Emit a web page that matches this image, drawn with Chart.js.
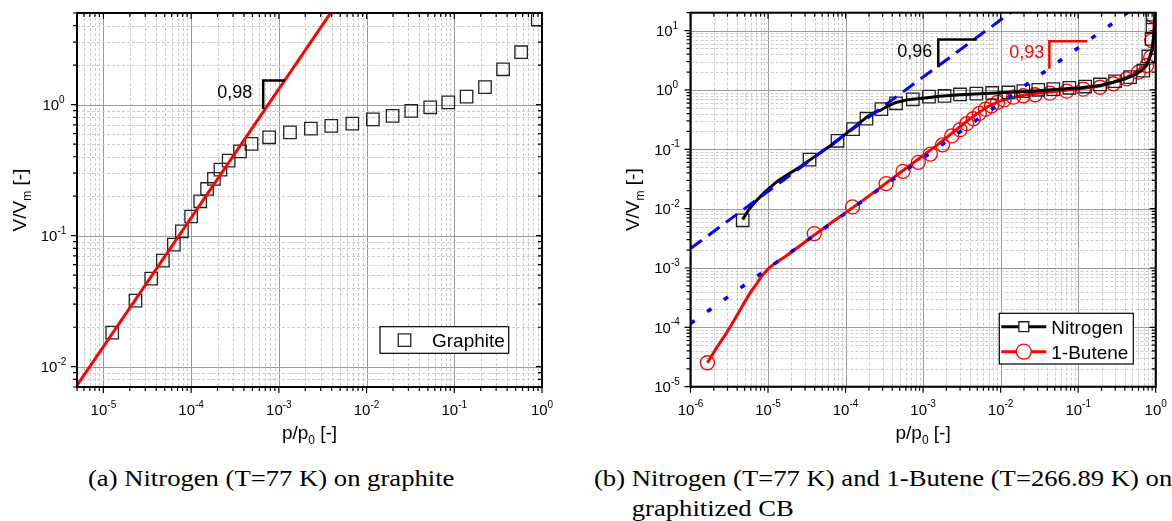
<!DOCTYPE html>
<html>
<head>
<meta charset="utf-8">
<script src="https://cdn.jsdelivr.net/npm/chart.js@4.4.1/dist/chart.umd.min.js"></script>
<style>
  html, body { margin: 0; padding: 0; background: #fff; }
  body { width: 1172px; height: 521px; position: relative; overflow: hidden; }
  canvas { position: absolute; top: 0; }
  #chartA { left: 0; }
  #chartB { left: 586px; }
  .cap {
    position: absolute;
    font-family: "Liberation Serif", "Times New Roman", serif;
    font-size: 24px;
    line-height: 30px;
    white-space: nowrap;
    color: #000;
    transform: scaleX(1.11);
    transform-origin: left top;
  }
</style>
</head>
<body>
<canvas id="chartA" width="586" height="460"></canvas>
<canvas id="chartB" width="586" height="460"></canvas>
<div class="cap" style="left:88px; top:463px">(a) Nitrogen (T=77 K) on graphite</div>
<div class="cap" style="left:594px; top:463px">(b) Nitrogen (T=77 K) and 1-Butene (T=266.89 K) on<br><span style="padding-left:34px">graphitized CB</span></div>

<script>
// ---- (a) nitrogen on graphite ----
const graphiteP = [1.26e-5, 2.32e-5, 3.51e-5, 4.76e-5, 6.36e-5, 7.85e-5, 1.0e-4, 1.27e-4, 1.52e-4, 1.82e-4,
  2.16e-4, 2.68e-4, 3.61e-4, 4.88e-4, 7.75e-4, 1.34e-3, 2.32e-3, 3.96e-3, 6.88e-3, 0.0118,
  0.0198, 0.0323, 0.0532, 0.0854, 0.138, 0.224, 0.36, 0.578, 0.895];
const graphiteV = [0.0182, 0.0319, 0.047, 0.0645, 0.0854, 0.108, 0.14, 0.183, 0.227, 0.271,
  0.319, 0.374, 0.44, 0.501, 0.563, 0.614, 0.656, 0.688, 0.716, 0.772,
  0.82, 0.895, 0.954, 1.04, 1.15, 1.36, 1.86, 2.51, 4.46];
const graphiteFitP = [5e-6, 5e-3];
const graphiteFitV = [0.0072, 6.4];
const slopeAP = [6.63e-4, 6.63e-4, 1.17e-3];
const slopeAV = [0.927, 1.525, 1.525];
const xDecadesA = [-5, -4, -3, -2, -1, 0];
const yDecadesA = [-2, -1, 0];

// ---- (b) nitrogen and 1-butene on graphitized CB ----
const n2P = [4.71e-6, 3.43e-5, 7.87e-5, 1.25e-4, 1.86e-4, 2.9e-4, 4.48e-4, 7.37e-4, 1.19e-3, 1.89e-3,
  2.99e-3, 4.86e-3, 7.78e-3, 0.0126, 0.0196, 0.0306, 0.0478, 0.0769, 0.123, 0.191,
  0.299, 0.467, 0.692, 0.803, 0.888, 0.91, 0.915];
const n2V = [6.37e-3, 0.0671, 0.139, 0.219, 0.327, 0.475, 0.596, 0.696, 0.77, 0.791,
  0.839, 0.865, 0.889, 0.906, 0.953, 1.006, 1.03, 1.086, 1.14, 1.235,
  1.4, 1.64, 2.12, 3.66, 7.25, 11.4, 16.7];
const n2CurveP = [4.71e-6, 5.68e-6, 7.15e-6, 9.14e-6, 1.29e-5, 1.81e-5, 2.58e-5, 4.03e-5, 6.95e-5, 1.14e-4,
  1.88e-4, 2.4e-4, 2.78e-4, 3.52e-4, 4.57e-4, 6.38e-4, 9.12e-4, 1.65e-3, 2.99e-3, 5.42e-3,
  0.0239, 0.106, 0.191, 0.284, 0.402, 0.514, 0.647, 0.766, 0.832, 0.889,
  0.932, 0.951, 0.9665, 0.98];
const n2CurveV = [6.55e-3, 9.75e-3, 0.0138, 0.0192, 0.0283, 0.0378, 0.0502, 0.076, 0.124, 0.208,
  0.348, 0.418, 0.451, 0.537, 0.622, 0.686, 0.718, 0.785, 0.829, 0.861,
  0.953, 1.087, 1.19, 1.35, 1.53, 1.75, 2.08, 2.58, 3.38, 4.61,
  6.79, 8.8, 13.6, 19.1];
const buteneP = [1.65e-6, 3.95e-5, 1.23e-4, 3.33e-4, 5.51e-4, 8.68e-4, 1.24e-3, 1.78e-3, 2.34e-3, 2.99e-3,
  3.65e-3, 4.44e-3, 5.31e-3, 6.38e-3, 7.63e-3, 9.11e-3, 0.0111, 0.0146, 0.0196, 0.0278,
  0.0433, 0.0712, 0.1165, 0.191, 0.284, 0.423, 0.597, 0.766, 0.863, 0.889, 0.916];
const buteneV = [2.53e-5, 3.8e-3, 0.0107, 0.0264, 0.0425, 0.0602, 0.083, 0.1186, 0.168, 0.214,
  0.27, 0.327, 0.402, 0.474, 0.541, 0.615, 0.678, 0.755, 0.797, 0.829,
  0.882, 0.953, 1.03, 1.11, 1.27, 1.54, 1.99, 2.58, 3.56, 6.79, 17.9];
const buteneCurveP = [1.65e-6, 2.2e-6, 2.93e-6, 3.75e-6, 4.8e-6, 5.85e-6, 7.15e-6, 8.36e-6, 1.008e-5, 1.23e-5,
  1.655e-5, 2.58e-5, 3.95e-5, 6.95e-5, 1.222e-4, 2.07e-4, 5.56e-4, 1.5e-3, 4.03e-3, 6.61e-3,
  9.82e-3, 0.0146, 0.0239, 0.0393, 0.1057, 0.191, 0.284, 0.402, 0.514, 0.647,
  0.766, 0.832, 0.889, 0.932, 0.951, 0.98];
const buteneCurveV = [2.53e-5, 4.66e-5, 8.17e-5, 1.4e-4, 2.46e-4, 3.77e-4, 5.48e-4, 7.43e-4, 9.73e-4, 1.205e-3,
  1.55e-3, 2.37e-3, 3.6e-3, 6.11e-3, 0.0103, 0.0169, 0.0442, 0.1164, 0.327, 0.513,
  0.652, 0.755, 0.855, 0.917, 1.045, 1.165, 1.35, 1.59, 1.87, 2.3,
  2.75, 3.52, 4.61, 6.79, 11.4, 19.1];
const n2FitP = [1e-6, 0.02];
const n2FitV = [2.13e-3, 29.5];
const buteneFitP = [1e-6, 1];
const buteneFitV = [1.16e-4, 43.6];
const slopeN2P = [1.57e-3, 1.57e-3, 4.91e-3];
const slopeN2V = [2.42, 7.06, 7.06];
const slopeButeneP = [0.0425, 0.0425, 0.131];
const slopeButeneV = [2.27, 6.6, 6.6];
const xDecadesB = [-6, -5, -4, -3, -2, -1, 0];
const yDecadesB = [-5, -4, -3, -2, -1, 0, 1];

const FONT = '"Liberation Sans", Arial, Helvetica, sans-serif';
Chart.defaults.font.family = FONT;

const pts = (xs, ys) => xs.map((x, i) => ({ x, y: ys[i] }));

// 1..9 x 10^e positions inside the axis range
function logTicks(min, max) {
  const out = [];
  for (let e = Math.floor(Math.log10(min)); e <= Math.ceil(Math.log10(max)); e++) {
    for (let m = 1; m <= 9; m++) {
      const v = m * Math.pow(10, e);
      if (v >= min * 0.9999 && v <= max * 1.0001) out.push({ v, major: m === 1 });
    }
  }
  return out;
}

// parts: [text, shift, size]; shift 1 = superscript, -1 = subscript
function richText(ctx, parts, x, y, align) {
  let w = 0;
  const sized = parts.map(([t, k, size]) => {
    ctx.font = `${size}px ${FONT}`;
    const tw = ctx.measureText(t).width;
    w += tw;
    return [t, k, size, tw];
  });
  let cx = align === "center" ? x - w / 2 : align === "right" ? x - w : x;
  ctx.textAlign = "left";
  ctx.textBaseline = "alphabetic";
  for (const [t, k, size, tw] of sized) {
    ctx.font = `${size}px ${FONT}`;
    ctx.fillText(t, cx, y + (k === 1 ? -7.5 : k === -1 ? 5 : 0));
    cx += tw;
  }
}

const figurePlugin = {
  id: "figure",
  beforeDatasetsDraw(chart) {
    const { ctx, chartArea: a, scales: { x, y } } = chart;
    ctx.save();
    ctx.lineWidth = 1;
    for (const t of logTicks(x.min, x.max)) {
      const px = Math.round(x.getPixelForValue(t.v)) + 0.5;
      ctx.strokeStyle = t.major ? "#9a9a9a" : "#cccccc";
      ctx.setLineDash(t.major ? [] : [3, 2]);
      ctx.beginPath();
      ctx.moveTo(px, a.top);
      ctx.lineTo(px, a.bottom);
      ctx.stroke();
    }
    for (const t of logTicks(y.min, y.max)) {
      const py = Math.round(y.getPixelForValue(t.v)) + 0.5;
      ctx.strokeStyle = t.major ? "#9a9a9a" : "#cccccc";
      ctx.setLineDash(t.major ? [] : [3, 2]);
      ctx.beginPath();
      ctx.moveTo(a.left, py);
      ctx.lineTo(a.right, py);
      ctx.stroke();
    }
    ctx.restore();
  },
  afterDatasetsDraw(chart, args, o) {
    const { ctx, chartArea: a, scales: { x, y } } = chart;
    ctx.save();
    ctx.setLineDash([]);
    ctx.strokeStyle = "#000";
    ctx.fillStyle = "#000";

    // tick marks: out on bottom/left, in on top/right
    ctx.lineWidth = 1.2;
    for (const t of logTicks(x.min, x.max)) {
      const px = x.getPixelForValue(t.v), len = t.major ? 6 : 4;
      ctx.beginPath();
      ctx.moveTo(px, a.bottom); ctx.lineTo(px, a.bottom + len);
      ctx.moveTo(px, a.top); ctx.lineTo(px, a.top + len);
      ctx.stroke();
    }
    for (const t of logTicks(y.min, y.max)) {
      const py = y.getPixelForValue(t.v), len = t.major ? 6 : 4;
      ctx.beginPath();
      ctx.moveTo(a.left - len, py); ctx.lineTo(a.left, py);
      ctx.moveTo(a.right - len, py); ctx.lineTo(a.right, py);
      ctx.stroke();
    }
    ctx.lineWidth = 2;
    ctx.strokeRect(a.left, a.top, a.right - a.left, a.bottom - a.top);

    // tick labels
    o.xDecades.forEach((e) =>
      richText(ctx, [["10", 0, 15], [String(e), 1, 10]], x.getPixelForValue(Math.pow(10, e)), a.bottom + 28, "center"));
    o.yDecades.forEach((e) =>
      richText(ctx, [["10", 0, 15], [String(e), 1, 10]], a.left - 23.5, y.getPixelForValue(Math.pow(10, e)) + 5.5, "center"));

    // axis titles
    richText(ctx, o.xTitle, (a.left + a.right) / 2, a.bottom + 52, "center");
    ctx.save();
    ctx.translate(a.left - 51.5, (a.top + a.bottom) / 2);
    ctx.rotate(-Math.PI / 2);
    richText(ctx, o.yTitle, 0, 0, "center");
    ctx.restore();

    // slope labels next to the triangle corners
    o.slopes.forEach((s) => {
      const corner = chart.data.datasets[s.ds].data[1];
      const px = x.getPixelForValue(corner.x), py = y.getPixelForValue(corner.y);
      ctx.fillStyle = s.color;
      richText(ctx, [[s.text, 0, 18]], px - s.gap, py + 17, "right");
    });

    // legend box
    const L = o.legend;
    const lx = a.right - L.right - L.w, ly = a.bottom - L.bottom - L.h;
    ctx.fillStyle = "#fff";
    ctx.fillRect(lx, ly, L.w, L.h);
    ctx.lineWidth = 1.2;
    ctx.strokeStyle = "#000";
    ctx.strokeRect(lx, ly, L.w, L.h);
    L.rows.forEach((r, i) => {
      const ds = chart.data.datasets[r.ds];
      const cy = ly + 13.4 + i * 25;
      const mx = lx + 24.5;
      if (r.line) {
        ctx.strokeStyle = r.line;
        ctx.lineWidth = 3;
        ctx.beginPath();
        ctx.moveTo(lx + 2, cy); ctx.lineTo(lx + 47, cy);
        ctx.stroke();
      }
      ctx.strokeStyle = ds.pointBorderColor;
      ctx.fillStyle = "#fff";
      ctx.lineWidth = 1.3;
      Chart.helpers.drawPoint(ctx, { pointStyle: ds.pointStyle, radius: r.radius, rotation: 0, borderWidth: 1.3 }, mx, cy);
      ctx.fillStyle = "#000";
      richText(ctx, [[ds.label, 0, 19]], lx + 52, cy + 7, "left");
    });
    ctx.restore();
  },
};

const lineDs = (label, xs, ys, color, width, extra) => ({
  label, data: pts(xs, ys), showLine: true, borderColor: color, borderWidth: width,
  pointRadius: 0, clip: 0, tension: 0, borderJoinStyle: "round", ...extra,
});
const markDs = (label, xs, ys, style, r, color) => ({
  label, data: pts(xs, ys), showLine: false, pointStyle: style, pointRadius: r,
  pointBorderColor: color, pointBackgroundColor: "rgba(0,0,0,0)", pointBorderWidth: 1.3,
  borderColor: color, backgroundColor: "rgba(0,0,0,0)", clip: 0,
});

function makeChart(id, padding, xr, yr, datasets, fig) {
  return new Chart(document.getElementById(id), {
    type: "scatter",
    data: { datasets },
    options: {
      responsive: false,
      animation: false,
      events: [],
      layout: { padding },
      scales: {
        x: { type: "logarithmic", display: false, min: xr[0], max: xr[1] },
        y: { type: "logarithmic", display: false, min: yr[0], max: yr[1] },
      },
      plugins: { legend: { display: false }, tooltip: { enabled: false }, figure: fig },
    },
    plugins: [figurePlugin],
  });
}

const pTitle = [["p/p", 0, 19], ["0", -1, 12], [" [-]", 0, 19]];
const vTitle = [["V/V", 0, 19], ["m", -1, 12], [" [-]", 0, 19]];

// first dataset is drawn on top
makeChart("chartA", { left: 77, top: 13, right: 44, bottom: 73 }, [5e-6, 1], [0.007, 5], [
  lineDs("slope", slopeAP, slopeAV, "#000", 2.5, { borderJoinStyle: "miter" }),
  lineDs("fit", graphiteFitP, graphiteFitV, "#ff0000", 3),
  markDs("Graphite", graphiteP, graphiteV, "rect", 8.8, "#222"),
], {
  xDecades: xDecadesA, yDecades: yDecadesA, xTitle: pTitle, yTitle: vTitle,
  slopes: [{ ds: 0, text: "0,98", color: "#000", gap: 11 }],
  legend: { right: 33.3, bottom: 33.7, w: 128.7, h: 26.6, rows: [{ ds: 2, radius: 8.8 }] },
});

makeChart("chartB", { left: 104.5, top: 12.7, right: 16.3, bottom: 73.3 }, [1e-6, 1], [1e-5, 20], [
  lineDs("slope N2", slopeN2P, slopeN2V, "#000", 2.5, { borderJoinStyle: "miter" }),
  lineDs("slope butene", slopeButeneP, slopeButeneV, "#ff0000", 2.5, { borderJoinStyle: "miter" }),
  lineDs("fit N2", n2FitP, n2FitV, "#0000ff", 3, { borderDash: [14, 8] }),
  lineDs("fit butene", buteneFitP, buteneFitV, "#0000ff", 3.5, { borderDash: [5, 15.5] }),
  lineDs("N2 curve", n2CurveP, n2CurveV, "#000", 3),
  markDs("Nitrogen", n2P, n2V, "rect", 8.8, "#222"),
  lineDs("butene curve", buteneCurveP, buteneCurveV, "#ff0000", 3),
  markDs("1-Butene", buteneP, buteneV, "circle", 7, "#ff0000"),
], {
  xDecades: xDecadesB, yDecades: yDecadesB, xTitle: pTitle, yTitle: vTitle,
  slopes: [
    { ds: 0, text: "0,96", color: "#000", gap: 6 },
    { ds: 1, text: "0,93", color: "#ff0000", gap: 5 },
  ],
  legend: {
    right: 22.4, bottom: 22.7, w: 134, h: 50.7,
    rows: [
      { ds: 5, line: "#000", radius: 7 },
      { ds: 7, line: "#ff0000", radius: 7.5 },
    ],
  },
});
</script>
</body>
</html>
